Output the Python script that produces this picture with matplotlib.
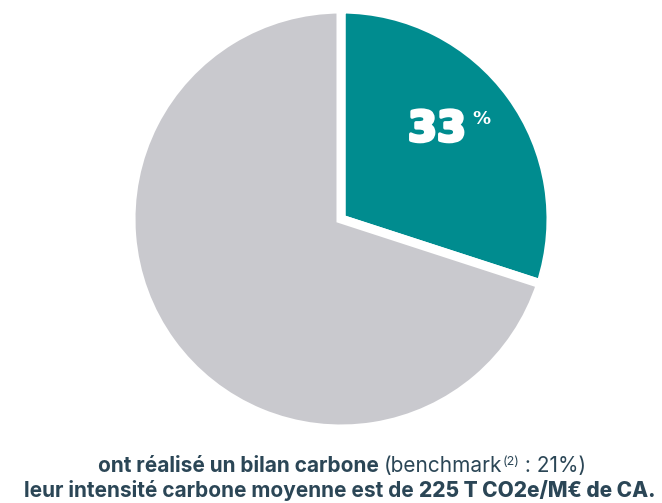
import matplotlib
matplotlib.use("Agg")
import matplotlib.pyplot as plt
import matplotlib.patheffects as pe

# shares as drawn (teal slice is labelled 33 %)
shares = [30, 70]
colors = ["#008C8F", "#C9C9CE"]
big_label = "33"
line1 = [("ont réalisé un bilan carbone ", "bold"), ("(benchmark", "normal"),
         ("(2)", "sup"), (" : 21%)", "normal")]
line2 = [("leur intensité carbone moyenne est de ", "bold"),
         ("225 T CO2e/M€ de CA.", "heavy")]

W, H = 662, 503
fig = plt.figure(figsize=(W / 100, H / 100), dpi=100)
ax = fig.add_axes([0, 0, 1, 1])
ax.axis("off")

ax.pie(shares, colors=colors, startangle=90, counterclock=False,
       center=(341, H - 219), radius=210,
       wedgeprops=dict(edgecolor="white", linewidth=6.5))
ax.set_xlim(0, W)
ax.set_ylim(0, H)
ax.set_aspect("auto")

ax.text(437, H - 129, big_label, color="white", fontsize=30, fontweight="bold",
        family="DejaVu Sans", ha="center", va="center",
        path_effects=[pe.withStroke(linewidth=2.5, foreground="white")])
ax.text(472, H - 119, "%", color="white", fontsize=13, fontweight="bold",
        family="DejaVu Sans", ha="left", va="center")

txt_color = "#2B4656"
fig.canvas.draw()
r = fig.canvas.get_renderer()


def draw_line(parts, x0, y, size=15, keep=True):
    x = x0
    for s, kind in parts:
        fs, yy, wt = size, y, kind
        if kind == "sup":
            fs, yy, wt = size * 0.6, y + 7, "normal"
        t = fig.text(x / W, yy / H, s, fontsize=fs, fontweight=wt,
                     family="Inter", color=txt_color, ha="left", va="baseline")
        bb = t.get_window_extent(renderer=r)
        x = bb.x1
        if not keep:
            t.remove()
    return x


w1 = draw_line(line1, 0, 300, keep=False)
draw_line(line1, 342 - w1 / 2, H - 472)
draw_line(line2, 24, H - 497)

fig.savefig("out.png", dpi=100)
